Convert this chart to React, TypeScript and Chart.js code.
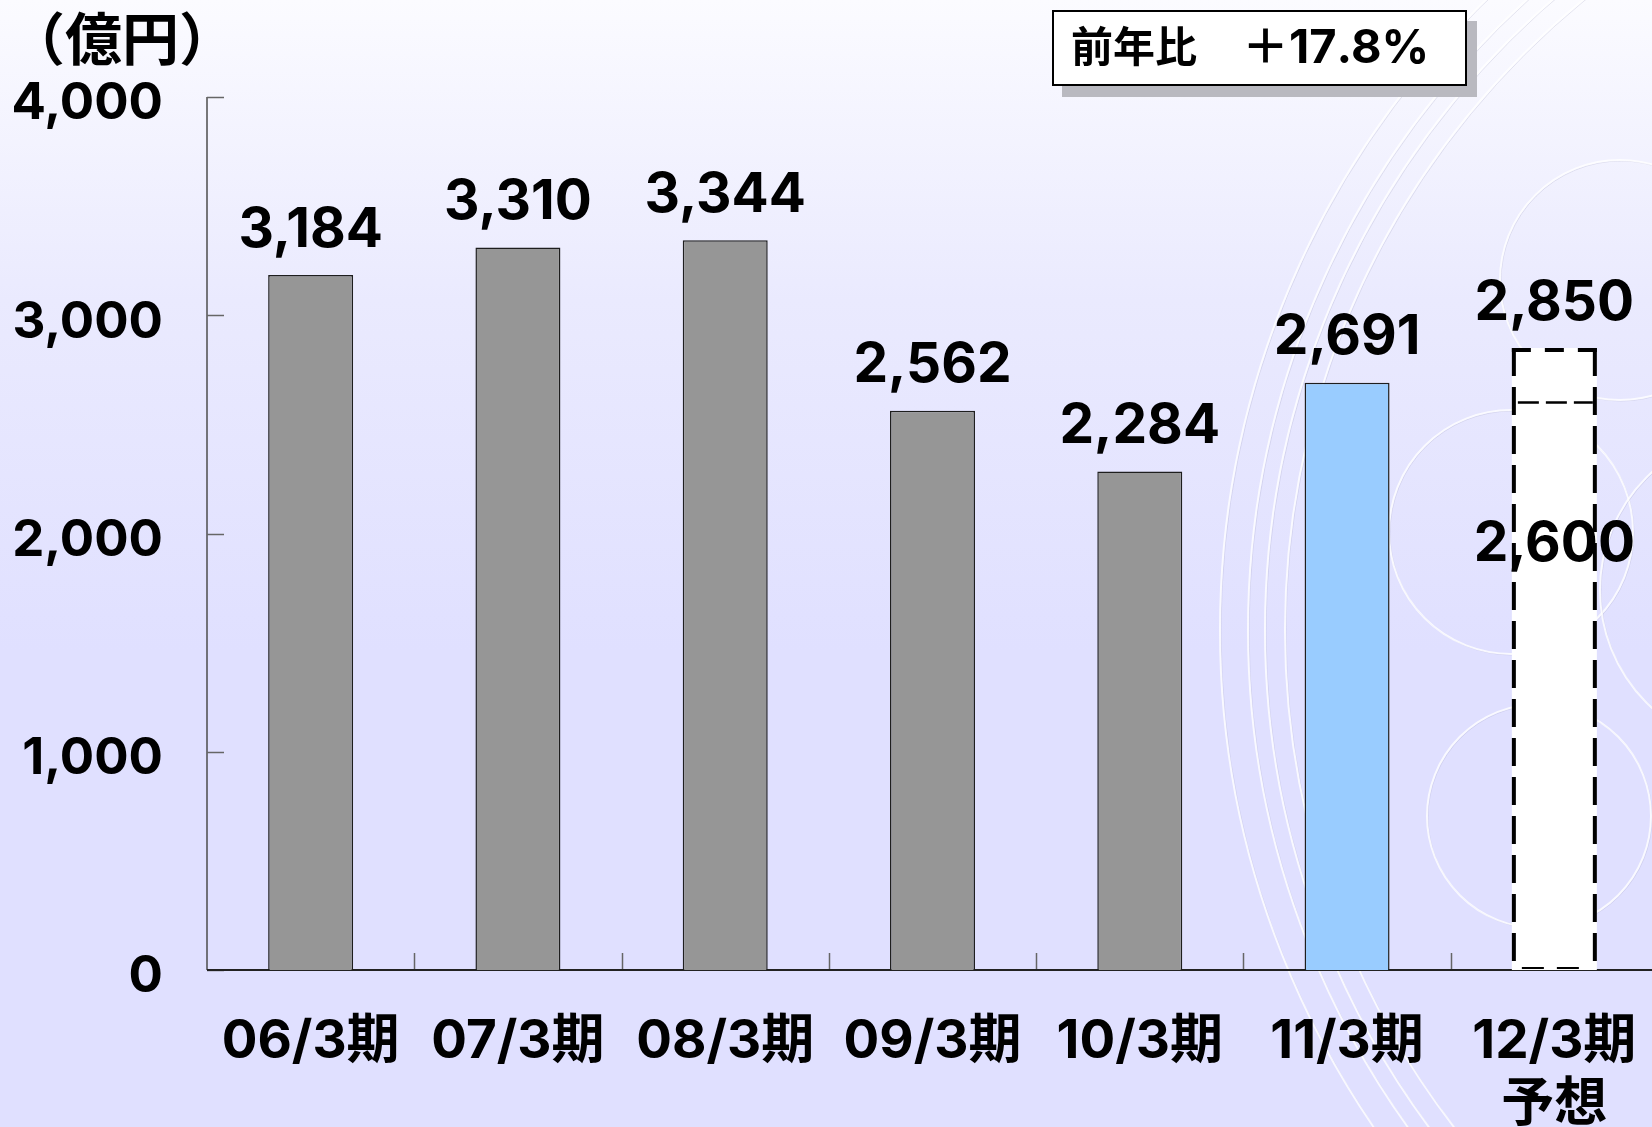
import React, { useEffect, useRef } from "react";
import { Chart, registerables } from "chart.js";

Chart.register(...registerables);

// ---- data ----
const categories: (string | string[])[] = [
  "06/3期",
  "07/3期",
  "08/3期",
  "09/3期",
  "10/3期",
  "11/3期",
  ["12/3期", "予想"],
];
const sales: number[] = [3184, 3310, 3344, 2562, 2284, 2691, 2850];
const forecastLow: (number | null)[] = [null, null, null, null, null, null, 2600];
const yTickValues: number[] = [0, 1000, 2000, 3000, 4000];
const unitText = "（億円）";
const yoyText = "前年比　＋17.8%";

// ---- styles ----
const FONT = 'Inter, "Noto Sans CJK JP", sans-serif';
const barFill = ["#969696", "#969696", "#969696", "#969696", "#969696", "#99ccff", "#ffffff"];
const barStroke = ["#1e1e1e", "#1e1e1e", "#1e1e1e", "#1e1e1e", "#1e1e1e", "#1e1e1e", "rgba(0,0,0,0)"];
const barBorderW = [1.5, 1.5, 1.5, 1.5, 1.5, 1.5, 0];

const W = 1662;
const H = 1127;

const fmt = (v: number) => v.toLocaleString("en-US");

function dashedSeg(ctx: CanvasRenderingContext2D, x1: number, y1: number, x2: number, y2: number, dash: number[], lw: number) {
  ctx.save();
  ctx.setLineDash(dash);
  ctx.lineWidth = lw;
  ctx.strokeStyle = "#000";
  ctx.beginPath();
  ctx.moveTo(x1, y1);
  ctx.lineTo(x2, y2);
  ctx.stroke();
  ctx.restore();
}

const decorPlugin = {
  id: "decor",
  beforeDraw(chart: any) {
    const ctx: CanvasRenderingContext2D = chart.ctx;
    ctx.save();
    const arcs: [number, number, number][] = [
      [2100, 630, 880],
      [2100, 630, 852],
      [2100, 630, 835],
      [2100, 630, 815],
      [1511, 532, 122],
      [1539, 816, 112],
      [1620, 280, 120],
      [1760, 590, 160],
    ];
    arcs.forEach(([cx, cy, r]) => {
      ctx.beginPath();
      ctx.arc(cx + 1, cy + 1, r, 0, Math.PI * 2);
      ctx.strokeStyle = "rgba(150,150,180,0.22)";
      ctx.lineWidth = 1;
      ctx.stroke();
      ctx.beginPath();
      ctx.arc(cx, cy, r, 0, Math.PI * 2);
      ctx.strokeStyle = "rgba(255,255,255,0.8)";
      ctx.lineWidth = 2;
      ctx.stroke();
    });
    ctx.restore();
  },
};

const axesPlugin = {
  id: "axesDraw",
  beforeDatasetsDraw(chart: any) {
    const ctx: CanvasRenderingContext2D = chart.ctx;
    const { chartArea, scales } = chart;
    const x = scales.x;
    const y = scales.y;
    ctx.save();
    ctx.strokeStyle = "#4d4d4d";
    ctx.lineWidth = 1.5;
    ctx.beginPath();
    ctx.moveTo(chartArea.left, y.getPixelForValue(yTickValues[yTickValues.length - 1]));
    ctx.lineTo(chartArea.left, y.getPixelForValue(0));
    ctx.stroke();
    ctx.strokeStyle = "#666";
    yTickValues.forEach((v) => {
      const py = Math.round(y.getPixelForValue(v)) + 0.5;
      ctx.beginPath();
      ctx.moveTo(chartArea.left, py);
      ctx.lineTo(chartArea.left + 17, py);
      ctx.stroke();
    });
    for (let i = 1; i < categories.length; i++) {
      const px = Math.round((x.getPixelForValue(i - 1) + x.getPixelForValue(i)) / 2) + 0.5;
      ctx.beginPath();
      ctx.moveTo(px, chartArea.bottom - 17);
      ctx.lineTo(px, chartArea.bottom);
      ctx.stroke();
    }
    ctx.strokeStyle = "#222";
    ctx.lineWidth = 2;
    ctx.beginPath();
    ctx.moveTo(chartArea.left, chartArea.bottom);
    ctx.lineTo(chart.width, chartArea.bottom);
    ctx.stroke();
    ctx.restore();
  },
};

const labelsPlugin = {
  id: "labelsDraw",
  afterDatasetsDraw(chart: any) {
    const ctx: CanvasRenderingContext2D = chart.ctx;
    const y = chart.scales.y;
    const meta = chart.getDatasetMeta(0);
    ctx.save();
    ctx.fillStyle = "#000";
    ctx.font = `bold 55px ${FONT}`;
    ctx.textAlign = "center";
    ctx.textBaseline = "middle";
    meta.data.forEach((el: any, i: number) => {
      const p = el.getProps(["x", "y"], true);
      ctx.fillText(fmt(sales[i]), p.x, p.y - 45);
    });
    forecastLow.forEach((v, i) => {
      if (v == null) return;
      const el = meta.data[i];
      const p = el.getProps(["x", "y", "base", "width"], true);
      const ly = y.getPixelForValue(v);
      ctx.fillStyle = "#000";
      ctx.fillText(fmt(v), p.x, ly + 142);
      const l = p.x - p.width / 2;
      const r = p.x + p.width / 2;
      const t = p.y;
      const b = p.base;
      dashedSeg(ctx, l + 6, ly, r - 4, ly, [21, 7], 2.5);
      dashedSeg(ctx, l, t + 2, r, t + 2, [19, 14], 4);
      dashedSeg(ctx, l + 2, t, l + 2, b, [28, 11], 4);
      dashedSeg(ctx, r - 2, t, r - 2, b, [28, 11], 4);
      dashedSeg(ctx, l + 10, b - 2, r - 8, b - 2, [22, 13], 2);
    });
    ctx.restore();
  },
  afterDraw(chart: any) {
    const ctx: CanvasRenderingContext2D = chart.ctx;
    ctx.save();
    ctx.fillStyle = "#000";
    ctx.font = `bold 57px ${FONT}`;
    ctx.textAlign = "left";
    ctx.textBaseline = "middle";
    ctx.fillText(unitText, 8, 43);
    // yoy box with shadow
    ctx.fillStyle = "#b9b9c0";
    ctx.fillRect(1062, 21, 415, 76);
    ctx.fillStyle = "#ffffff";
    ctx.fillRect(1052, 10, 415, 76);
    ctx.strokeStyle = "#000";
    ctx.lineWidth = 2;
    ctx.strokeRect(1053, 11, 413, 74);
    const parts = yoyText.split("　");
    ctx.fillStyle = "#000";
    ctx.font = `bold 42px ${FONT}`;
    ctx.fillText(parts[0], 1071, 49);
    ctx.font = `bold 47px ${FONT}`;
    ctx.fillText(parts[1], 1242, 49);
    ctx.restore();
  },
};

export default function App() {
  const ref = useRef<HTMLCanvasElement | null>(null);

  useEffect(() => {
    if (!ref.current) return;
    const chart = new Chart(ref.current, {
      type: "bar",
      data: {
        labels: categories as any,
        datasets: [
          {
            data: sales,
            backgroundColor: barFill,
            borderColor: barStroke,
            borderWidth: barBorderW,
            borderSkipped: "bottom",
            barPercentage: 0.41,
            categoryPercentage: 1,
          },
        ],
      },
      options: {
        animation: false,
        responsive: false,
        devicePixelRatio: 1,
        layout: { padding: { top: 97, right: 4, left: 0, bottom: 0 } },
        plugins: {
          legend: { display: false },
          tooltip: { enabled: false },
        },
        scales: {
          x: {
            grid: { display: false, drawTicks: false },
            border: { display: false },
            ticks: {
              color: "#000",
              font: { family: FONT, size: 53, weight: "bold", lineHeight: 1.2 },
              padding: 40,
              autoSkip: false,
              maxRotation: 0,
              minRotation: 0,
            },
            afterFit: (s: any) => {
              s.height = 157;
              s.paddingLeft = 0;
              s.paddingRight = 0;
            },
          },
          y: {
            min: 0,
            max: 4000,
            grid: { display: false, drawTicks: false },
            border: { display: false },
            afterBuildTicks: (s: any) => {
              s.ticks = yTickValues.map((v) => ({ value: v }));
            },
            ticks: {
              color: "#000",
              font: { family: FONT, size: 51, weight: "bold" },
              padding: 44,
              labelOffset: 7,
              callback: (v: any) => fmt(Number(v)),
            },
            afterFit: (s: any) => {
              s.width = 207;
            },
          },
        },
      },
      plugins: [decorPlugin, axesPlugin, labelsPlugin],
    });
    return () => chart.destroy();
  }, []);

  return (
    <div
      style={{
        position: "fixed",
        left: 0,
        top: 0,
        width: 1652,
        height: 1127,
        overflow: "hidden",
        background: "linear-gradient(to bottom, #fbfbff 0px, #eaeafe 300px, #e0e0ff 650px, #e0e0ff 1127px)",
      }}
    >
      <canvas ref={ref} width={W} height={H} style={{ display: "block", width: W, height: H }} />
    </div>
  );
}
